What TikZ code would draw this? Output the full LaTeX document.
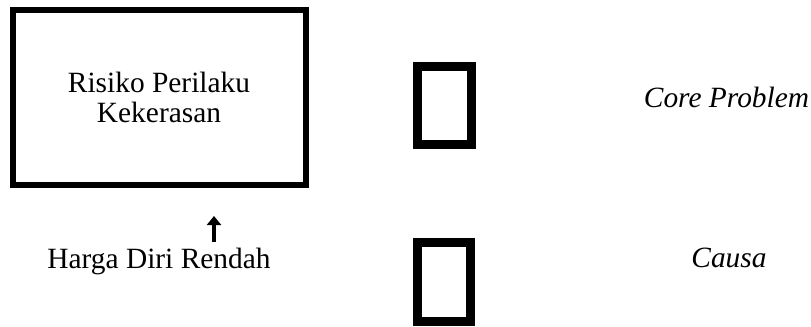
\documentclass[tikz,border=0pt]{standalone}
\usepackage{fontspec}
\setmainfont{Liberation Serif}
\usetikzlibrary{arrows.meta}
\begin{document}
\begin{tikzpicture}[x=0.5pt, y=-0.5pt, font=\fontsize{14.7}{15}\selectfont,
    txt/.style={inner sep=0pt, align=center},
    glyphbox/.style={line width=4.5pt}]
        \useasboundingbox (0,0) rectangle (811,327);
        % left column
        \draw[line width=3pt] (13,9.5) rectangle (305.5,185) ;
        \node[txt] (rpk) at (159,97) {Risiko Perilaku\\Kekerasan};
        \node[txt, anchor=base] (hdr) at (159,268) {Harga Diri Rendah};
        \coordinate (tip) at (214,216);
        \coordinate (tail) at (214,242);
        \draw[line width=2.4pt, -{Triangle[length=4.5pt,width=7pt]}] (tail) -- (tip);
        % middle
        \draw[glyphbox] (417.5,66.5) rectangle (471.5,144.5);
        \draw[glyphbox] (417.5,242.5) rectangle (470.5,321.5);
        % right column
        \node[txt, font=\fontsize{14.7}{15}\selectfont\itshape] (core) at (726.5,97) {Core Problem};
        \node[txt, font=\fontsize{14.7}{15}\selectfont\itshape] (causa) at (729,258) {Causa};
    \end{tikzpicture}
\end{document}
